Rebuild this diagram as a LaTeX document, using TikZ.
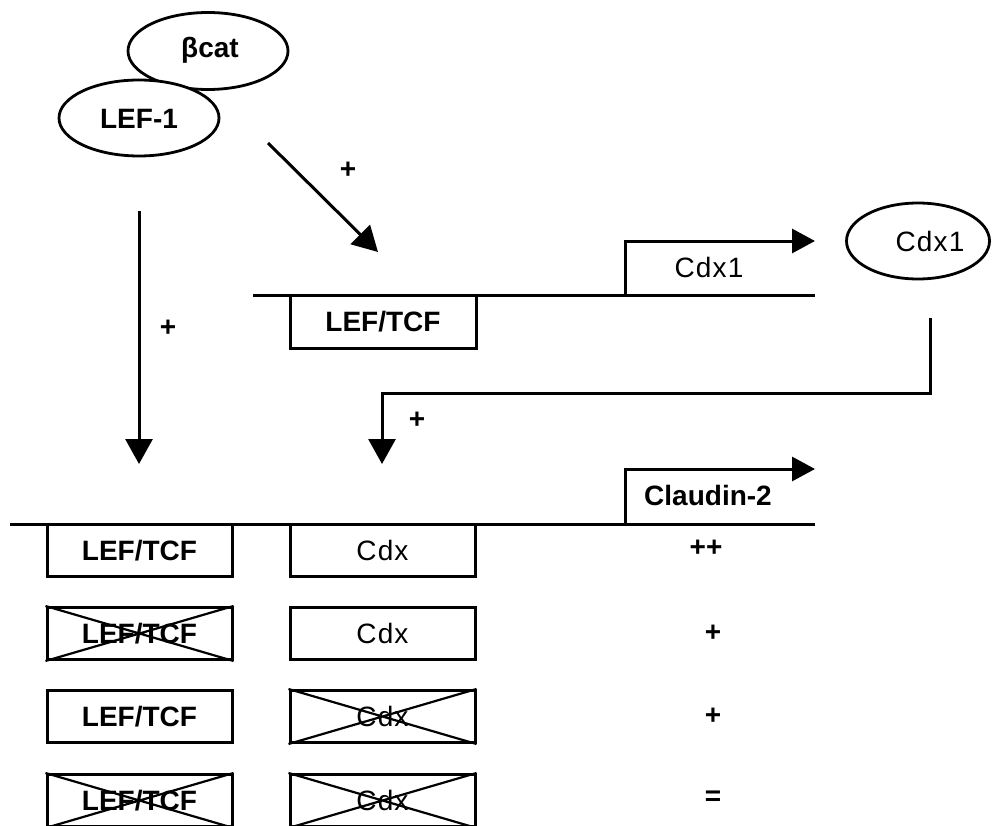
\documentclass[tikz,border=0pt]{standalone}
\usepackage{fontspec}
\setmainfont{Liberation Sans}
\newfontfamily\spacedfont[LetterSpace=4]{Liberation Sans}
\usetikzlibrary{shapes.geometric,arrows.meta}
\begin{document}
\begin{tikzpicture}[x=1pt,y=-1pt,
  line join=miter,
  thick line/.style={line width=3pt},
  arr/.style={line width=3pt,-{Triangle[length=25pt,width=27pt]}},
  bentarr/.style={line width=3pt,-{Triangle[length=23pt,width=24pt]}},
  txt/.style={inner sep=0pt,font=\bfseries\fontsize{28}{30}\selectfont},
  rtxt/.style={inner sep=0pt,font=\spacedfont\fontsize{28}{30}\selectfont},
  oval/.style={ellipse,draw,line width=2.8pt,inner sep=0pt,fill=white},
  box/.style={rectangle,draw,line width=3pt,minimum width=185pt,minimum height=52pt,inner sep=0pt},
  xline/.style={line width=2.2pt}
]
\useasboundingbox (0,0) rectangle (1000,826);

% proteins
\node[oval,minimum width=160pt,minimum height=77pt] (bcat) at (208,51) {};
\node[txt] (bcattxt) at (210,50) {βcat};
\node[oval,minimum width=160pt,minimum height=76pt] (lef1) at (139,118) {};
\node[txt] (lef1txt) at (139,119) {LEF-1};
\node[oval,minimum width=143pt,minimum height=76pt] (cdx1p) at (918,241) {};
\node[rtxt] (cdx1ptxt) at (930,241) {Cdx1};

% upper promoter
\coordinate (ul) at (253,295);
\coordinate (ur) at (815,295);
\draw[thick line] (ul) -- (ur);
\coordinate (utss) at (625,295);
\coordinate (uarr) at (815,241);
\draw[bentarr] (utss) |- (uarr);
\node[rtxt] (cdx1gene) at (709,267) {Cdx1};
\node[box,minimum width=186pt,minimum height=53pt,txt] (ulef) at (383,321.5) {LEF/TCF};

% lower promoter
\coordinate (ll) at (10,524);
\coordinate (lr) at (815,524);
\draw[thick line] (ll) -- (lr);
\coordinate (ltss) at (625,524);
\coordinate (larr) at (815,469);
\draw[bentarr] (ltss) |- (larr);
\node[txt] (cld) at (708,495) {Claudin-2};

% arrows
\coordinate (d1s) at (268,143);
\coordinate (d1e) at (378,252);
\draw[arr] (d1s) -- (d1e);
\node[txt] (p1) at (348,170) {+};

\coordinate (v1s) at (139,211);
\coordinate (v1e) at (139,464);
\draw[arr] (v1s) -- (v1e);
\node[txt] (p2) at (168,328) {+};

\coordinate (c1) at (930,318);
\coordinate (c2) at (930,393);
\coordinate (c3) at (382,393);
\coordinate (c4) at (382,464);
\draw[arr] (c1) -- (c2) -- (c3) -- (c4);
\node[txt] (p3) at (417,420) {+};

% rows
\node[box,txt] (r1a) at (139.5,550.5) {LEF/TCF};
\node[box,rtxt] (r1b) at (382.5,550.5) {Cdx};
\node[txt] (r1c) at (706,548) {++};

\node[box,txt] (r2a) at (139.5,633.5) {LEF/TCF};
\draw[xline] (r2a.north west) -- (r2a.south east) (r2a.south west) -- (r2a.north east);
\node[box,rtxt] (r2b) at (382.5,633.5) {Cdx};
\node[txt] (r2c) at (713,633) {+};

\node[box,txt] (r3a) at (139.5,716.5) {LEF/TCF};
\node[box,rtxt] (r3b) at (382.5,716.5) {Cdx};
\draw[xline] (r3b.north west) -- (r3b.south east) (r3b.south west) -- (r3b.north east);
\node[txt] (r3c) at (713,716) {+};

\node[box,txt] (r4a) at (139.5,800.5) {LEF/TCF};
\draw[xline] (r4a.north west) -- (r4a.south east) (r4a.south west) -- (r4a.north east);
\node[box,rtxt] (r4b) at (382.5,800.5) {Cdx};
\draw[xline] (r4b.north west) -- (r4b.south east) (r4b.south west) -- (r4b.north east);
\node[txt] (r4c) at (713,798) {=};
\end{tikzpicture}
\end{document}
